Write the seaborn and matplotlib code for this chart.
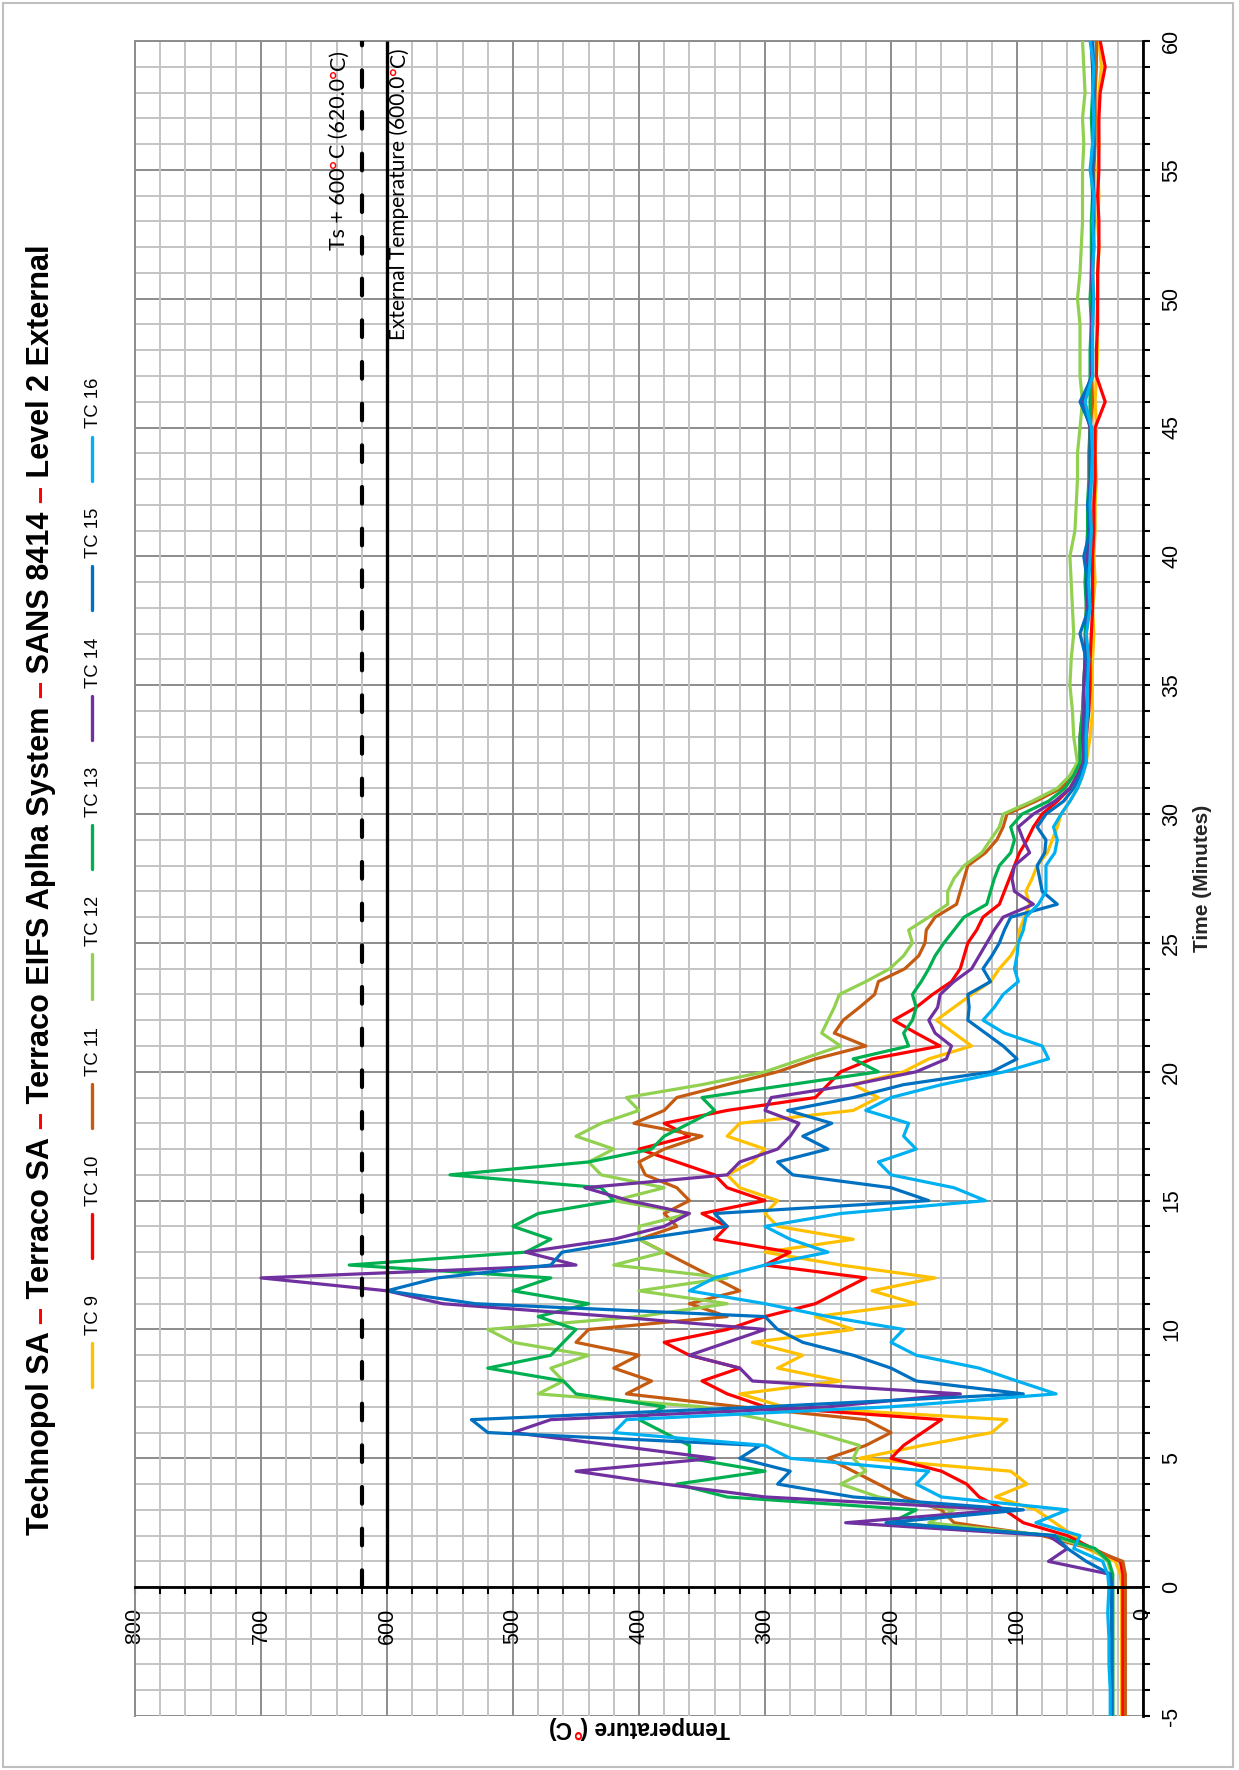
import math
import numpy as np
import pandas as pd
import matplotlib
matplotlib.use("Agg")
import matplotlib.pyplot as plt
import seaborn as sns
from matplotlib.ticker import MultipleLocator
from matplotlib.lines import Line2D
from matplotlib.patches import Rectangle
from matplotlib.font_manager import FontProperties

# ---------------- data ----------------
series_names = ["TC 9", "TC 10", "TC 11", "TC 12", "TC 13", "TC 14", "TC 15", "TC 16"]
series_colors = ["#FFC000", "#FF0000", "#C55A11", "#92D050", "#00B050", "#7030A0", "#0070C0", "#00B0F0"]

time_pre = [-5, -4, -3, -2, -1]
time_main = list(np.arange(0, 32.01, 0.5))
time_tail = list(range(33, 61))

tc9 = ([17, 17, 17, 17, 17] +
       [17, 18, 22, 45, 55, 70, 85, 117, 92, 105, 225, 175, 120, 108, 285, 320, 240, 290, 270, 310,
        230, 260, 180, 215, 165, 240, 300, 230, 290, 300, 290, 320, 330, 310, 300, 330, 320, 230, 210, 230,
        190, 170, 136, 150, 164, 150, 136, 121, 114, 105, 99, 98, 94, 90, 93, 88, 84, 76, 72, 68,
        65, 58, 52, 48, 45] +
       [42, 40, 41, 40, 39, 40, 38, 39, 38, 38, 37, 38, 37, 38, 37, 36, 37, 36, 36, 35, 36, 35, 36, 35, 36, 35, 33, 35])
tc10 = ([16, 16, 16, 16, 16] +
        [16, 16, 18, 40, 60, 95, 110, 130, 140, 160, 200, 190, 175, 160, 300, 330, 350, 320, 360, 380,
         330, 300, 260, 240, 220, 300, 280, 340, 330, 350, 300, 330, 340, 370, 400, 360, 380, 330, 260, 250,
         240, 215, 161, 180, 198, 180, 167, 152, 145, 142, 139, 132, 127, 114, 110, 106, 102, 98, 92, 87,
         80, 68, 58, 52, 48] +
        [45, 43, 42, 42, 41, 40, 40, 40, 39, 39, 38, 38, 38, 30, 37, 37, 36, 36, 36, 35, 35, 36, 35, 35, 35, 34, 30, 34])
tc11 = ([14, 14, 14, 14, 14] +
        [14, 14, 16, 42, 80, 150, 160, 190, 210, 230, 250, 220, 200, 220, 320, 410, 390, 420, 400, 450,
         440, 330, 360, 320, 340, 360, 380, 400, 370, 380, 360, 370, 395, 400, 380, 350, 404, 380, 370, 330,
         290, 260, 220, 245, 238, 225, 213, 210, 189, 178, 173, 172, 165, 148, 145, 142, 139, 125, 116, 111,
         108, 85, 65, 55, 50] +
        [50, 48, 47, 46, 45, 45, 44, 44, 43, 43, 42, 42, 42, 40, 41, 41, 40, 40, 40, 39, 39, 39, 39, 38, 38, 38, 37, 37])
tc12 = ([24, 24, 24, 24, 24] +
        [24, 25, 28, 40, 75, 170, 150, 210, 240, 220, 230, 225, 260, 300, 350, 480, 460, 470, 440, 500,
         520, 400, 330, 400, 330, 420, 380, 400, 400, 360, 420, 380, 430, 440, 420, 450, 430, 400, 410, 350,
         300, 270, 240, 255, 250, 245, 241, 220, 201, 190, 183, 186, 170, 155, 155, 150, 142, 128, 121, 114,
         111, 88, 68, 58, 52] +
        [55, 56, 58, 57, 55, 56, 57, 58, 54, 53, 52, 52, 50, 48, 50, 50, 50, 52, 50, 49, 48, 48, 48, 47, 48, 46, 47, 48])
tc13 = ([24, 24, 24, 24, 24] +
        [24, 24, 27, 38, 70, 200, 180, 330, 370, 300, 360, 360, 380, 400, 380, 450, 460, 520, 470, 460,
         450, 480, 440, 500, 470, 630, 490, 470, 500, 480, 420, 430, 550, 440, 390, 380, 360, 340, 350, 280,
         210, 230, 186, 190, 183, 180, 183, 176, 170, 165, 158, 150, 142, 124, 121, 118, 114, 105, 102, 105,
         96, 75, 62, 55, 50] +
        [50, 48, 47, 46, 46, 45, 46, 45, 44, 44, 43, 43, 42, 42, 42, 42, 41, 42, 41, 41, 41, 40, 41, 40, 41, 40, 40, 41])
tc14 = ([25, 25, 25, 25, 25] +
        [25, 26, 75, 60, 75, 236, 110, 300, 380, 450, 340, 420, 500, 470, 250, 145, 310, 320, 360, 330,
         300, 420, 556, 600, 700, 450, 490, 420, 380, 360, 408, 443, 330, 320, 290, 280, 273, 300, 295, 230,
         180, 156, 152, 165, 170, 163, 161, 150, 136, 130, 124, 118, 111, 87, 102, 104, 102, 90, 95, 99,
         87, 70, 58, 52, 47] +
        [48, 47, 47, 46, 45, 44, 45, 44, 43, 43, 42, 42, 42, 48, 41, 41, 41, 40, 41, 40, 40, 40, 40, 39, 40, 39, 40, 41])
tc15 = ([25, 25, 25, 25, 25] +
        [25, 26, 45, 60, 70, 204, 95, 230, 290, 280, 320, 304, 520, 533, 300, 95, 180, 200, 230, 270,
         290, 300, 530, 600, 560, 470, 461, 400, 330, 340, 170, 200, 278, 290, 250, 270, 247, 282, 230, 190,
         120, 100, 111, 125, 139, 138, 139, 121, 127, 120, 114, 110, 105, 68, 80, 82, 84, 78, 77, 84,
         77, 63, 55, 50, 46] +
        [46, 45, 44, 45, 50, 43, 44, 47, 42, 44, 41, 42, 41, 50, 40, 41, 40, 40, 40, 40, 39, 39, 40, 39, 40, 39, 39, 40])
tc16 = ([26, 26, 27, 27, 28] +
        [27, 28, 32, 55, 50, 85, 60, 160, 180, 170, 280, 300, 420, 410, 200, 69, 100, 130, 180, 200,
         190, 250, 300, 360, 340, 300, 250, 280, 300, 240, 125, 150, 200, 210, 180, 190, 186, 220, 200, 160,
         110, 75, 80, 110, 127, 118, 111, 99, 102, 100, 99, 95, 93, 83, 77, 77, 77, 70, 68, 71,
         65, 58, 52, 48, 45] +
        [45, 44, 44, 43, 45, 42, 43, 42, 41, 42, 41, 40, 41, 46, 40, 40, 40, 39, 40, 39, 40, 39, 42, 40, 39, 40, 39, 42])

external_temp = 600.0
ts_limit = 620.0

temp_ticks_major = 100
temp_ticks_minor = 20
time_ticks_major = 5
time_ticks_minor = 1

# ---------------- figure ----------------
sns.set_theme(style="white")
plt.rcParams["font.family"] = ["Liberation Sans", "DejaVu Sans"]
plt.rcParams["axes.unicode_minus"] = False

W, H = 1239, 1770
fig = plt.figure(figsize=(W / 100, H / 100), dpi=100)
fig.patch.set_facecolor("white")


def fx(px):
    return px / W


def fy(py):
    return 1 - py / H


AX_L, AX_R, AX_T, AX_B = 135, 1143, 41, 1716
ax = fig.add_axes([fx(AX_L), fy(AX_B), (AX_R - AX_L) / W, (AX_B - AX_T) / H])

time_min = np.array(time_pre + time_main + time_tail, dtype=float)
values = [tc9, tc10, tc11, tc12, tc13, tc14, tc15, tc16]
frames = []
for name, vals in zip(series_names, values):
    frames.append(pd.DataFrame({"Time": time_min, "Temp": np.array(vals, dtype=float), "Series": name}))
df = pd.concat(frames, ignore_index=True)

sns.lineplot(data=df, x="Temp", y="Time", hue="Series", hue_order=series_names,
             palette=dict(zip(series_names, series_colors)), sort=False, estimator=None,
             orient="y", linewidth=2.3, legend=False, ax=ax, zorder=3)

# reference lines (from t = 0 upward)
ax.plot([external_temp, external_temp], [0, 60], color="black", lw=2.4, zorder=4,
        solid_capstyle="butt")
ax.plot([ts_limit, ts_limit], [0, 60], color="black", lw=3.0, zorder=4,
        dashes=(4, 6), dash_capstyle="round")

ax.set_xlim(800, 0)
ax.set_ylim(-5, 60)
ax.xaxis.set_major_locator(MultipleLocator(temp_ticks_major))
ax.xaxis.set_minor_locator(MultipleLocator(temp_ticks_minor))
ax.yaxis.set_major_locator(MultipleLocator(time_ticks_major))
ax.yaxis.set_minor_locator(MultipleLocator(time_ticks_minor))
ax.grid(which="major", color="#8c8c8c", lw=1.4)
ax.grid(which="minor", color="#c4c4c4", lw=1.4)
ax.set_axisbelow(True)
# draw the temperature axis (with its labels) above the horizontal grid lines
ax.yaxis.set_zorder(0.4)
ax.xaxis.set_zorder(0.6)

ax.spines["bottom"].set_position(("data", 0))
ax.spines["bottom"].set_color("black")
ax.spines["bottom"].set_linewidth(2.0)
ax.spines["bottom"].set_zorder(5)
ax.spines["right"].set_visible(True)
ax.spines["right"].set_color("black")
ax.spines["right"].set_linewidth(2.0)
ax.spines["right"].set_zorder(5)
for s in ("left", "top"):
    ax.spines[s].set_color("#8c8c8c")
    ax.spines[s].set_linewidth(1.4)

ax.yaxis.tick_right()
ax.tick_params(axis="x", which="both", direction="out", length=5, width=1.5, color="black",
               bottom=True, top=False, labelrotation=90, labelsize=15.5, pad=10, labelcolor="black")
ax.tick_params(axis="y", which="both", direction="out", length=5, width=1.5, color="black",
               right=True, left=False, labelrotation=90, labelsize=15.5, pad=8, labelcolor="black")
for lab in ax.get_yticklabels():
    lab.set_va("center")
ax.set_xlabel("")
ax.yaxis.set_label_position("right")
ax.set_ylabel("Time (Minutes)", fontsize=15, fontweight="bold", rotation=90, va="center", ha="center")
ax.yaxis.set_label_coords((1202 - AX_L) / (AX_R - AX_L), 0.5)

# ---------------- rich text helpers ----------------
renderer = fig.canvas.get_renderer()


def advance(s, fp):
    w1, _, _ = renderer.get_text_width_height_descent("|" + s + "|", fp, ismath=False)
    w0, _, _ = renderer.get_text_width_height_descent("||", fp, ismath=False)
    return w1 - w0


def rich_text(pieces, x, y, angle, size, weight="normal", family=None, target_len=None):
    fam = family or ["Liberation Sans", "DejaVu Sans"]
    fp = FontProperties(family=fam, size=size, weight=weight)
    if target_len:
        total = sum(advance(s, fp) for s, _ in pieces)
        size = size * target_len / total
        fp = FontProperties(family=fam, size=size, weight=weight)
    ca, sa = math.cos(math.radians(angle)), math.sin(math.radians(angle))
    pos = 0.0
    for s, c in pieces:
        fig.text(fx(x + pos * ca), fy(y - pos * sa), s, rotation=angle, rotation_mode="anchor",
                 ha="left", va="baseline", fontproperties=fp, color=c)
        pos += advance(s, fp)


RED = "#FF0000"
# Title
rich_text([("Technopol SA ", "black"), ("\u2013", RED), (" Terraco SA ", "black"), ("\u2013", RED),
           (" Terraco EIFS Aplha System ", "black"), ("\u2013", RED), (" SANS 8414 ", "black"),
           ("\u2013", RED), (" Level 2 External", "black")],
          x=49, y=1535, angle=90, size=20, weight="bold", target_len=1292)

# reference line labels
rich_text([("Ts + 600", "black"), ("\u00b0", RED), ("C (620.0", "black"), ("\u00b0", RED), ("C)", "black")],
          x=345, y=250, angle=90, size=12, family=["Lato", "DejaVu Sans"], target_len=200)
rich_text([("External Temperature (600.0", "black"), ("\u00b0", RED), ("C)", "black")],
          x=405, y=340, angle=90, size=12, family=["Lato", "DejaVu Sans"], target_len=292)

# Temperature axis label (upside down)
rich_text([("Temperature (", "black"), ("\u00b0", RED), ("C)", "black")],
          x=730, y=1721, angle=180, size=15, weight="bold", target_len=184)

# ---------------- legend (vertical, rotated) ----------------
leg_x = 92
for i, (name, col) in enumerate(zip(series_names, series_colors)):
    yc = 1365 - i * 129.5
    fig.add_artist(Line2D([fx(leg_x), fx(leg_x)], [fy(yc + 22), fy(yc - 22)],
                          transform=fig.transFigure, color=col, lw=2.4))
    fig.text(fx(leg_x + 6.5), fy(yc - 30), name, rotation=90, rotation_mode="anchor",
             ha="left", va="baseline", fontsize=13.3, color="black")

# outer border
fig.add_artist(Rectangle((fx(3), fy(1767)), (1233 - 3) / W, (1767 - 3) / H, transform=fig.transFigure,
                         fill=False, edgecolor="#bfbfbf", lw=1.5))

fig.savefig("out.png", dpi=100)
